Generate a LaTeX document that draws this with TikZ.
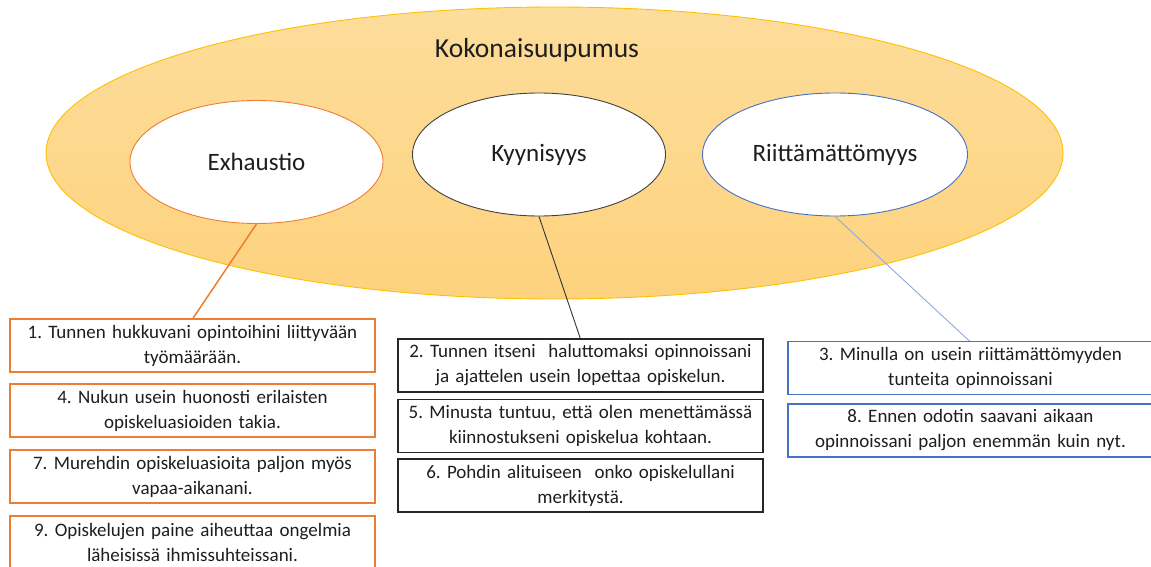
\documentclass[tikz,border=0pt]{standalone}
\usepackage{fontspec}
\setmainfont{Carlito}
\usetikzlibrary{shapes.geometric}
\definecolor{orng}{HTML}{ED7D31}
\definecolor{blu}{HTML}{4472C4}
\definecolor{lblu}{HTML}{8FAADC}
\definecolor{gold}{HTML}{FFC000}
\definecolor{txt}{HTML}{1E1E1E}
\definecolor{ytop}{RGB}{253,221,156}
\definecolor{ybot}{RGB}{253,210,125}
\frenchspacing
\begin{document}
\begin{tikzpicture}[x=1pt,y=-1pt,
  bigell/.style={ellipse, draw=gold, line width=0.9pt, top color=ytop, bottom color=ybot, inner sep=0pt, minimum width=1017pt, minimum height=292pt},
  subell/.style={ellipse, fill=white, line width=0.9pt, inner sep=0pt, minimum width=253pt, minimum height=123pt, font=\fontsize{25}{30}\selectfont, text=txt},
  item/.style={rectangle, fill=white, line width=1.3pt, inner sep=0pt, minimum width=365pt, minimum height=53pt, text width=355pt, align=center, font=\fontsize{19}{25}\selectfont, text=txt},
]
\useasboundingbox (0,0) rectangle (1151,567);
\clip (0,0) rectangle (1151,567);

\node[bigell] (whole) at (554.5,153) {};
\node[font=\fontsize{27.5}{33}\selectfont, text=txt] (title) at (537,50) {Kokonaisuupumus};

\node[subell, draw=orng] (exh) at (256.5,162) {Exhaustio};
\node[subell, draw=black!75] (kyy) at (539,154.5) {Kyynisyys};
\node[subell, draw=blu, minimum width=265pt] (rii) at (835,154.5) {Riittämättömyys};

\draw[orng, line width=1.5pt] (exh.south) -- (192.5,319) coordinate (c1);
\draw[black!80, line width=0.9pt] (kyy.south) -- (580.5,339) coordinate (c2);
\draw[lblu, line width=0.9pt] (rii.south) -- (970.5,342) coordinate (c3);

\node[item, draw=orng] (b1) at (192.5,345.5) {1. Tunnen hukkuvani opintoihini liittyvään\\työmäärään.};
\node[item, draw=orng] (b4) at (192.5,410.5) {4. Nukun usein huonosti erilaisten\\opiskeluasioiden takia.};
\node[item, draw=orng] (b7) at (192.5,476.5) {7. Murehdin opiskeluasioita paljon myös\\vapaa-aikanani.};
\node[item, draw=orng] (b9) at (192.5,542.5) {9. Opiskelujen paine aiheuttaa ongelmia\\läheisissä ihmissuhteissani.};

\node[item, draw=black!85] (b2) at (580.5,365.5) {2. Tunnen itseni~ haluttomaksi opinnoissani\\ja ajattelen usein lopettaa opiskelun.};
\node[item, draw=black!85] (b5) at (580.5,426) {5. Minusta tuntuu, että olen menettämässä\\kiinnostukseni opiskelua kohtaan.};
\node[item, draw=black!85] (b6) at (580.5,485.5) {6. Pohdin alituiseen~ onko opiskelullani\\merkitystä.};

\node[item, draw=blu] (b3) at (970.5,368) {3. Minulla on usein riittämättömyyden\\tunteita opinnoissani};
\node[item, draw=blu] (b8) at (970.5,430.5) {8. Ennen odotin saavani aikaan\\opinnoissani paljon enemmän kuin nyt.};
\end{tikzpicture}
\end{document}
